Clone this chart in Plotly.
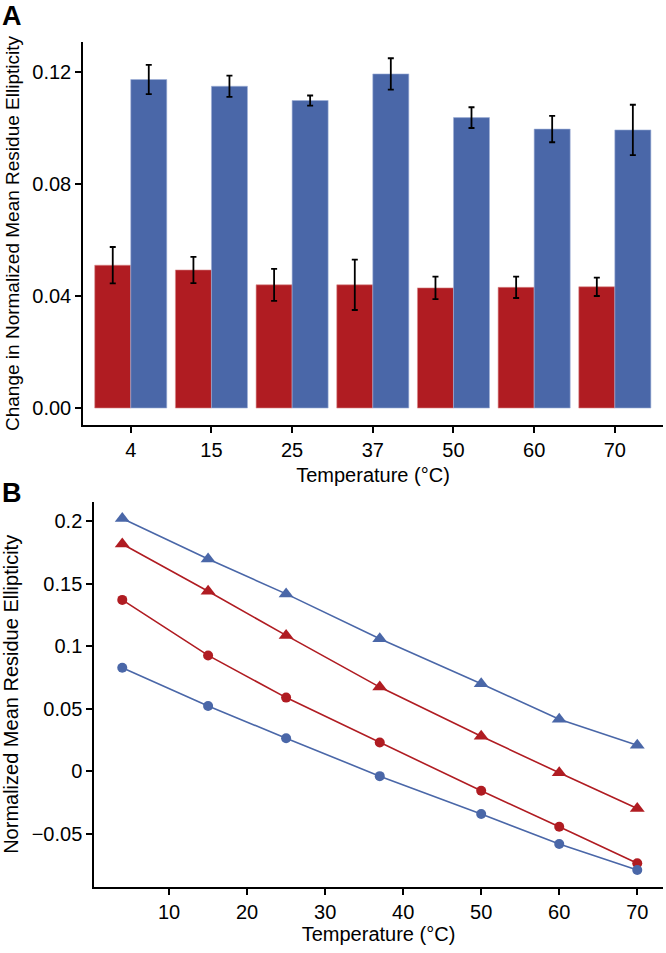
import plotly.graph_objects as go

# ---- Panel A data ----
temp_cats = ["4", "15", "25", "37", "50", "60", "70"]
red_bar = [0.0510, 0.0493, 0.0440, 0.0440, 0.0429, 0.0431, 0.0433]
red_err = [0.0065, 0.0047, 0.0057, 0.0090, 0.0040, 0.0038, 0.0033]
blue_bar = [0.1173, 0.1149, 0.1098, 0.1193, 0.1037, 0.0996, 0.0993]
blue_err = [0.0052, 0.0038, 0.0018, 0.0056, 0.0037, 0.0047, 0.0090]

# ---- Panel B data ----
temps = [4, 15, 25, 37, 50, 60, 70]
blue_tri = [0.2020, 0.1696, 0.1417, 0.1058, 0.0699, 0.0415, 0.0207]
red_tri = [0.1816, 0.1438, 0.1085, 0.0672, 0.0279, -0.0013, -0.0298]
red_circ = [0.1369, 0.0925, 0.0588, 0.0229, -0.0157, -0.0444, -0.0736]
blue_circ = [0.0827, 0.0521, 0.0263, -0.0040, -0.0343, -0.0582, -0.0790]

b_yticks = [-0.05, 0, 0.05, 0.1, 0.15, 0.2]
b_yticktext = ["\u22120.05", "0", "0.05", "0.1", "0.15", "0.2"]
b_xticks = [10, 20, 30, 40, 50, 60, 70]

RED = "#B01C22"
BLUE = "#4A67A8"
FONT = "Liberation Sans, Arial, sans-serif"

fig = go.Figure()

fig.add_trace(go.Bar(
    x=temp_cats, y=red_bar, marker=dict(color=RED, line=dict(color="#D98A8C", width=0.6)),
    error_y=dict(type="data", array=red_err, color="black", thickness=1.8, width=3),
    xaxis="x", yaxis="y", showlegend=False))
fig.add_trace(go.Bar(
    x=temp_cats, y=blue_bar, marker=dict(color=BLUE, line=dict(color="#9FB0D6", width=0.6)),
    error_y=dict(type="data", array=blue_err, color="black", thickness=1.8, width=3),
    xaxis="x", yaxis="y", showlegend=False))

for ys, col, sym, sz in [(blue_tri, BLUE, "triangle-up", 13), (red_tri, RED, "triangle-up", 13),
                         (red_circ, RED, "circle", 10), (blue_circ, BLUE, "circle", 10)]:
    fig.add_trace(go.Scatter(
        x=temps, y=ys, mode="lines+markers",
        line=dict(color=col, width=1.6),
        marker=dict(color=col, symbol=sym, size=sz),
        xaxis="x2", yaxis="y2", showlegend=False))

axis_common = dict(showline=True, linecolor="black", linewidth=1.5, ticks="outside",
                   ticklen=6, tickwidth=1.5, tickcolor="black", showgrid=False, zeroline=False,
                   tickfont=dict(family=FONT, size=20, color="black"))

fig.update_layout(
    width=666, height=953,
    margin=dict(l=83, r=3, t=42, b=66),
    paper_bgcolor="white", plot_bgcolor="white",
    barmode="group", bargap=0.107, bargroupgap=0,
    font=dict(family=FONT, color="black"),
    xaxis=dict(domain=[0, 1], anchor="y", type="category", range=[-0.592, 6.597],
               title=dict(text="Temperature (\u00b0C)", font=dict(size=20), standoff=8),
               **axis_common),
    yaxis=dict(domain=[0.5467, 1], anchor="x", range=[-0.00607, 0.1307],
               tickvals=[0, 0.04, 0.08, 0.12], tickformat=".2f",
               title=dict(text="Change in Normalized Mean Residue Ellipticity", font=dict(size=19), standoff=8),
               **axis_common),
    xaxis2=dict(domain=[0.019, 1], anchor="y2", range=[0.38, 73.3], tickvals=b_xticks,
                title=dict(text="Temperature (\u00b0C)", font=dict(size=20), standoff=5),
                **axis_common),
    yaxis2=dict(domain=[0, 0.456], anchor="x2", range=[-0.0926, 0.2154],
                tickvals=b_yticks, ticktext=b_yticktext,
                title=dict(text="Normalized Mean Residue Ellipticity", font=dict(size=20), standoff=8),
                **axis_common),
    annotations=[
        dict(text="<b>A</b>", x=-0.1431, y=1.0509, xref="paper", yref="paper",
             xanchor="left", yanchor="top", showarrow=False, font=dict(size=27, family=FONT)),
        dict(text="<b>B</b>", x=-0.1431, y=0.4864, xref="paper", yref="paper",
             xanchor="left", yanchor="top", showarrow=False, font=dict(size=27, family=FONT)),
    ],
)

fig.write_html("out.html", config={"displayModeBar": False},
               post_script="document.body.style.margin='0px';")
